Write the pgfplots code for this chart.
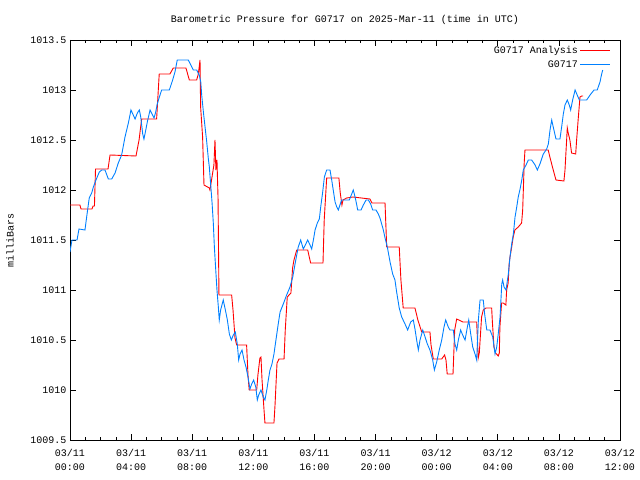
\documentclass[border=0pt]{standalone}
\usepackage{pgfplots}
\pgfplotsset{compat=1.18}
\usepackage{fontspec}
\setmainfont{Liberation Mono}
\definecolor{gred}{RGB}{255,0,0}
\definecolor{gblue}{RGB}{0,128,255}
\begin{document}
\begin{tikzpicture}[font=\fontsize{10bp}{12bp}\selectfont]
\useasboundingbox (0bp,0bp) rectangle (640bp,480bp);
\begin{axis}[
  at={(70bp,40bp)}, anchor=south west,
  scale only axis, width=550bp, height=400bp,
  xmin=0, xmax=36, ymin=1009.5, ymax=1013.5,
  axis line style={line width=0.8bp},
  xtick={0,4,...,36},
  xticklabels={{03/11\\00:00},{03/11\\04:00},{03/11\\08:00},{03/11\\12:00},{03/11\\16:00},{03/11\\20:00},{03/12\\00:00},{03/12\\04:00},{03/12\\08:00},{03/12\\12:00}},
  xticklabel style={align=center, font=\fontsize{10bp}{14bp}\selectfont, yshift=-6bp},
  minor x tick num=3,
  ytick={1009.5,1010,1010.5,1011,1011.5,1012,1012.5,1013,1013.5},
  yticklabels={1009.5,1010,1010.5,1011,1011.5,1012,1012.5,1013,1013.5},
  major tick length=6bp, minor tick length=3bp,
  tick style={black, line width=0.6bp},
  title={Barometric Pressure for G0717 on 2025-Mar-11 (time in UTC)},
  title style={at={(axis description cs:0.5,1)}, anchor=base, yshift=12bp, inner sep=0pt},
  ylabel={milliBars},
  ylabel style={at={(axis description cs:-0.109,0.5)}, anchor=center},
  legend style={at={(axis description cs:1,1)}, anchor=north east, draw=none, fill=none,
    xshift=-6bp, yshift=-2bp, row sep=1.5bp, font=\fontsize{10bp}{12bp}\selectfont},
  legend cell align=right, legend plot pos=right,
  legend image code/.code={\draw[#1] (0bp,0bp) -- (30bp,0bp);},
]
\addplot[gred, line width=0.9bp] table {
t v
0 1011.85
0.65 1011.85
0.72 1011.81
1.44 1011.81
1.51 1011.84
1.60 1011.84
1.67 1012.21
2.49 1012.21
2.62 1012.35
4.32 1012.34
4.52 1012.50
4.69 1012.71
5.67 1012.71
5.84 1013.16
6.54 1013.16
6.76 1013.22
7.59 1013.22
7.81 1013.10
8.29 1013.10
8.40 1013.16
8.51 1013.30
8.55 1012.83
8.68 1012.53
8.77 1012.05
9.12 1012.02
9.16 1012.00
9.42 1012.25
9.49 1012.50
9.55 1012.20
9.62 1012.30
9.69 1011.92
9.75 1010.95
10.58 1010.95
10.67 1010.80
10.80 1010.52
10.91 1010.45
11.56 1010.45
11.65 1010.15
11.73 1010.00
12.22 1010.00
12.30 1010.15
12.43 1010.32
12.50 1010.33
12.57 1010.10
12.70 1009.80
12.76 1009.67
13.35 1009.67
13.42 1009.85
13.55 1010.27
13.68 1010.31
14.01 1010.31
14.09 1010.60
14.22 1010.93
14.46 1010.97
14.57 1011.22
14.66 1011.30
14.84 1011.40
15.56 1011.40
15.75 1011.27
16.56 1011.27
16.64 1011.70
16.80 1012.12
17.60 1012.12
17.69 1011.97
17.80 1011.85
17.87 1011.90
18.11 1011.92
18.52 1011.93
19.63 1011.91
19.76 1011.87
20.62 1011.87
20.73 1011.43
21.55 1011.43
21.66 1011.10
21.81 1010.82
22.58 1010.82
22.77 1010.70
23.02 1010.58
23.56 1010.58
23.63 1010.45
23.78 1010.31
24.33 1010.31
24.52 1010.35
24.61 1010.30
24.69 1010.16
25.07 1010.16
25.18 1010.60
25.31 1010.71
25.72 1010.68
26.62 1010.68
26.72 1010.32
26.79 1010.37
26.94 1010.73
27.05 1010.80
27.23 1010.82
27.60 1010.82
27.64 1010.70
27.75 1010.43
27.86 1010.37
28.03 1010.34
28.10 1010.37
28.14 1010.63
28.25 1010.87
28.36 1010.87
28.53 1010.85
28.58 1011.00
28.68 1011.07
28.75 1011.27
28.80 1011.33
28.91 1011.43
29.01 1011.53
29.12 1011.60
29.34 1011.63
29.56 1011.67
29.63 1011.80
29.73 1012.27
29.78 1012.40
31.30 1012.40
31.41 1012.33
31.63 1012.20
31.81 1012.10
32.33 1012.09
32.40 1012.20
32.46 1012.37
32.55 1012.62
32.61 1012.57
32.72 1012.50
32.83 1012.37
33.10 1012.36
33.16 1012.50
33.27 1012.72
33.38 1012.93
33.49 1012.94
33.59 1012.94
};
\addlegendentry{G0717 Analysis}
\addplot[gblue, line width=0.9bp] table {
t v
0 1011.38
0.13 1011.50
0.46 1011.50
0.59 1011.61
0.98 1011.60
1.09 1011.73
1.26 1011.92
1.42 1011.97
1.53 1012.03
1.70 1012.10
1.92 1012.18
2.08 1012.20
2.29 1012.20
2.51 1012.11
2.73 1012.11
2.95 1012.17
3.16 1012.27
3.38 1012.35
3.60 1012.53
3.82 1012.67
3.99 1012.80
4.14 1012.75
4.26 1012.71
4.41 1012.77
4.54 1012.80
4.63 1012.73
4.76 1012.56
4.84 1012.51
4.96 1012.60
5.06 1012.68
5.24 1012.80
5.37 1012.76
5.50 1012.72
5.61 1012.78
5.71 1012.86
5.85 1012.93
6.00 1013.00
6.15 1013.00
6.50 1013.00
6.72 1013.10
6.87 1013.18
7.02 1013.30
7.74 1013.30
7.97 1013.23
8.07 1013.20
8.29 1013.20
8.46 1013.15
8.56 1013.08
8.62 1012.95
8.73 1012.78
8.84 1012.63
8.95 1012.48
9.05 1012.32
9.12 1012.23
9.21 1012.05
9.30 1011.87
9.38 1011.67
9.45 1011.43
9.54 1011.20
9.62 1011.00
9.71 1010.83
9.77 1010.70
9.86 1010.80
10.03 1010.90
10.17 1010.80
10.30 1010.70
10.43 1010.56
10.56 1010.50
10.69 1010.55
10.82 1010.58
10.95 1010.46
11.04 1010.30
11.13 1010.36
11.26 1010.40
11.39 1010.30
11.52 1010.23
11.65 1010.13
11.78 1010.01
11.89 1010.06
12.02 1010.10
12.16 1010.03
12.26 1009.90
12.35 1009.95
12.50 1010.00
12.65 1009.93
12.76 1009.90
12.88 1010.00
12.98 1010.10
13.09 1010.20
13.22 1010.26
13.35 1010.36
13.48 1010.50
13.63 1010.66
13.75 1010.78
13.96 1010.86
14.18 1010.95
14.40 1011.03
14.58 1011.13
14.73 1011.26
14.94 1011.43
15.10 1011.50
15.27 1011.41
15.40 1011.45
15.56 1011.50
15.71 1011.45
15.82 1011.41
15.93 1011.50
16.04 1011.60
16.19 1011.67
16.32 1011.71
16.41 1011.83
16.54 1011.98
16.65 1012.13
16.80 1012.20
17.02 1012.20
17.13 1012.10
17.23 1012.00
17.35 1011.88
17.46 1011.83
17.56 1011.80
17.67 1011.85
17.78 1011.90
18.00 1011.90
18.28 1011.90
18.44 1011.96
18.54 1012.00
18.66 1011.93
18.77 1011.85
18.83 1011.80
19.05 1011.80
19.20 1011.85
19.38 1011.90
19.53 1011.90
19.68 1011.86
19.81 1011.80
20.03 1011.80
20.18 1011.76
20.29 1011.72
20.40 1011.66
20.51 1011.60
20.62 1011.52
20.77 1011.43
20.95 1011.28
21.12 1011.16
21.27 1011.10
21.38 1010.98
21.55 1010.82
21.71 1010.73
21.93 1010.66
22.10 1010.60
22.30 1010.68
22.47 1010.70
22.58 1010.61
22.69 1010.50
22.80 1010.40
22.91 1010.50
23.09 1010.60
23.24 1010.53
23.39 1010.46
23.56 1010.40
23.74 1010.30
23.85 1010.20
24.00 1010.28
24.17 1010.40
24.33 1010.50
24.48 1010.63
24.59 1010.70
24.76 1010.63
24.87 1010.60
25.09 1010.60
25.20 1010.46
25.31 1010.40
25.42 1010.50
25.57 1010.60
25.70 1010.55
25.86 1010.50
26.01 1010.63
26.10 1010.70
26.23 1010.56
26.36 1010.43
26.51 1010.36
26.62 1010.30
26.73 1010.70
26.84 1010.90
27.05 1010.90
27.14 1010.76
27.28 1010.60
27.49 1010.60
27.67 1010.53
27.82 1010.36
27.93 1010.43
28.03 1010.56
28.15 1010.73
28.26 1011.06
28.32 1011.10
28.41 1011.03
28.54 1011.00
28.69 1011.16
28.80 1011.33
28.91 1011.46
29.02 1011.56
29.13 1011.73
29.24 1011.83
29.34 1011.93
29.46 1012.01
29.57 1012.10
29.67 1012.20
29.85 1012.25
30.00 1012.30
30.22 1012.30
30.44 1012.25
30.59 1012.20
30.76 1012.26
30.98 1012.36
31.20 1012.41
31.31 1012.46
31.42 1012.60
31.53 1012.70
31.63 1012.63
31.81 1012.51
32.07 1012.51
32.18 1012.63
32.29 1012.76
32.40 1012.85
32.55 1012.90
32.68 1012.85
32.77 1012.80
32.90 1012.90
33.06 1013.00
33.17 1012.96
33.34 1012.90
33.82 1012.90
34.04 1012.95
34.30 1013.00
34.51 1013.00
34.69 1013.08
34.80 1013.16
34.87 1013.20
};
\addlegendentry{G0717}
\end{axis}
\end{tikzpicture}
\end{document}
